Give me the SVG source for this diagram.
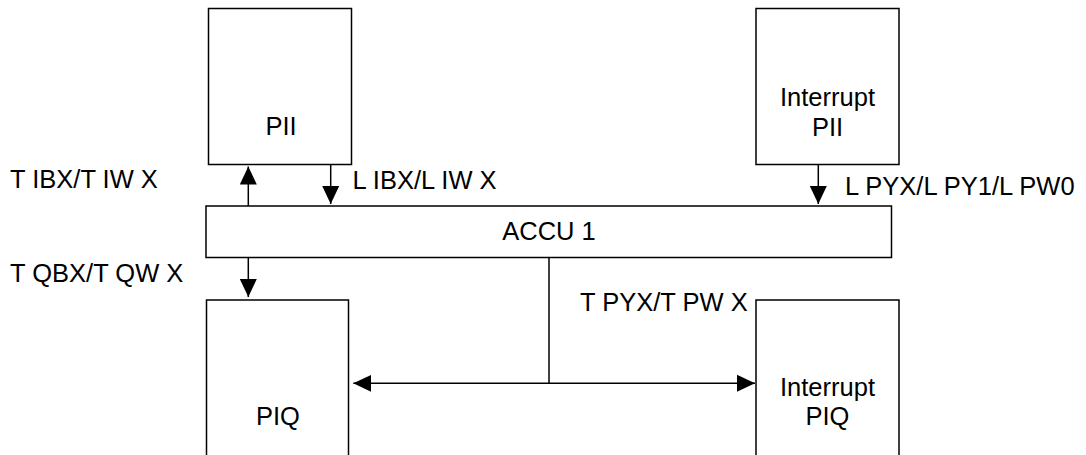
<svg xmlns="http://www.w3.org/2000/svg" width="1086" height="455" viewBox="0 0 1086 455">
<style>
.box{fill:#fff;stroke:#000;stroke-width:1.5}
.ln{fill:none;stroke:#000;stroke-width:1.5}
.t{font-family:"Liberation Sans",Arial,sans-serif;font-size:25.5px;fill:#000}
.c{text-anchor:middle}
</style>
<defs>
<marker id="ah" markerUnits="userSpaceOnUse" markerWidth="18" markerHeight="18" viewBox="0 0 18 18" refX="18" refY="9" orient="auto">
<path d="M0,0.5 L18,9 L0,17.5 z" fill="#000"/>
</marker>
</defs>
<g id="pii"><rect class="box" x="208.5" y="8.5" width="143" height="156"/><text class="t c" x="281" y="135">PII</text></g>
<g id="int-pii"><rect class="box" x="756" y="8.5" width="143" height="156"/><text class="t c" x="827.5" y="106">Interrupt</text><text class="t c" x="827.5" y="135.5">PII</text></g>
<g id="accu"><rect class="box" x="206" y="206" width="685.5" height="51.5"/><text class="t c" x="549" y="239.5">ACCU 1</text></g>
<g id="piq"><rect class="box" x="206.5" y="300" width="142" height="160"/><text class="t c" x="278" y="425">PIQ</text></g>
<g id="int-piq"><rect class="box" x="756" y="300" width="143" height="160"/><text class="t c" x="827.5" y="396">Interrupt</text><text class="t c" x="827.5" y="425">PIQ</text></g>
<g id="connectors">
<line class="ln" x1="248.3" y1="206" x2="248.3" y2="166.5" marker-end="url(#ah)"/>
<line class="ln" x1="330.7" y1="164.5" x2="330.7" y2="204" marker-end="url(#ah)"/>
<line class="ln" x1="818.3" y1="164.5" x2="818.3" y2="204" marker-end="url(#ah)"/>
<line class="ln" x1="248.3" y1="257.5" x2="248.3" y2="297" marker-end="url(#ah)"/>
<line class="ln" x1="549" y1="257.5" x2="549" y2="383.3"/>
<line class="ln" x1="549" y1="383.3" x2="353.3" y2="383.3" marker-end="url(#ah)"/>
<line class="ln" x1="549" y1="383.3" x2="755" y2="383.3" marker-end="url(#ah)"/>
</g>
<g id="labels">
<text class="t" x="10" y="188">T IBX/T IW X</text>
<text class="t" x="352.5" y="188.5">L IBX/L IW X</text>
<text class="t" x="845" y="195">L PYX/L PY1/L PW0</text>
<text class="t" x="10" y="281.5">T QBX/T QW X</text>
<text class="t" x="580" y="311">T PYX/T PW X</text>
</g>
</svg>
